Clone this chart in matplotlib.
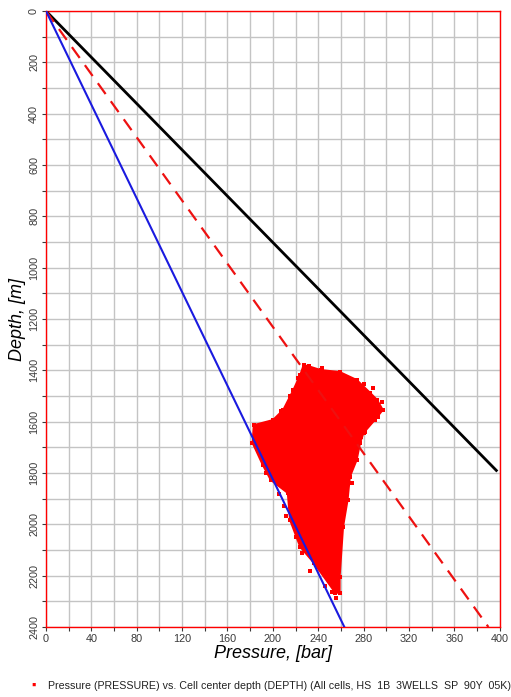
"""Pressure vs. cell-centre depth cross-plot with gradient lines."""
import numpy as np
import matplotlib
matplotlib.use("Agg")
import matplotlib.pyplot as plt
from matplotlib.patches import Polygon
from matplotlib.ticker import MultipleLocator

plt.rcParams['font.family'] = ['Liberation Sans', 'DejaVu Sans']

# ---- Gradient lines (end points) ----
BLACK_P = [0, 397]
BLACK_D = [0, 1790]
DASH_P  = [0, 390]
DASH_D  = [0, 2400]
BLUE_P  = [0, 263]
BLUE_D  = [0, 2400]

# ---- Cell cloud outline (pressure bar, depth m), traced clockwise ----
CLOUD_P = [227, 232, 242, 259, 274, 286, 292, 297, 290, 280, 277, 274, 268, 266,
           262, 259, 259, 255, 236, 224, 215, 213, 198, 191, 182, 183, 200, 209,
           218, 224]
CLOUD_D = [1379, 1384, 1398, 1406, 1437, 1488, 1515, 1554, 1593, 1644, 1683, 1749,
           1815, 1905, 2010, 2205, 2267, 2267, 2150, 2088, 1983, 1878, 1827, 1769,
           1683, 1613, 1593, 1554, 1476, 1418]

# stray cells along the edge of the cloud
STRAY_P = [296, 293, 281, 278, 285, 212, 210, 205, 194, 186, 220, 226, 233, 246,
           252, 256, 264, 270, 288, 280, 222, 215, 207, 243]
STRAY_D = [1523, 1580, 1640, 1660, 1505, 1967, 1930, 1880, 1800, 1700, 2050, 2110,
           2180, 2240, 2262, 2285, 1930, 1840, 1470, 1455, 1430, 1500, 1560, 1390]

LEGEND_TEXT = ("Pressure (PRESSURE) vs. Cell center depth (DEPTH) "
               "(All cells, HS  1B  3WELLS  SP  90Y  05K)")


def main():
    fig = plt.figure(figsize=(5.11, 6.97), dpi=100)
    ax = fig.add_axes([0.090, 0.1004, 0.888, 0.8838])

    ax.set_xlim(0, 400)
    ax.set_ylim(2400, 0)
    ax.xaxis.set_major_locator(MultipleLocator(40))
    ax.xaxis.set_minor_locator(MultipleLocator(20))
    ax.yaxis.set_major_locator(MultipleLocator(200))
    ax.yaxis.set_minor_locator(MultipleLocator(100))
    ax.grid(which="both", color="#c4c4c4", lw=1.0, zorder=0)
    ax.set_axisbelow(True)

    ax.tick_params(which="major", labelsize=7.8, colors="#3a3a3a", length=3, width=0.8, pad=2)
    ax.tick_params(which="minor", length=3, width=0.8, colors="#3a3a3a")
    for lab in ax.get_yticklabels():
        lab.set_rotation(90)
        lab.set_va("center")

    for s in ax.spines.values():
        s.set_color("red")
        s.set_linewidth(1.0)

    # cloud of cells
    ax.add_patch(Polygon(np.column_stack([CLOUD_P, CLOUD_D]), closed=True,
                         facecolor="#ff0000", edgecolor="#ff0000", lw=1.2, zorder=3))
    ax.scatter(CLOUD_P, CLOUD_D, marker="s", s=7, color="#ff0000", lw=0, zorder=3)
    ax.scatter(STRAY_P, STRAY_D, marker="s", s=7, color="#ff0000", lw=0, zorder=3)

    ax.plot(BLACK_P, BLACK_D, color="black", lw=2.0, zorder=4)
    ax.plot(DASH_P, DASH_D, color="#ee1111", lw=1.6, dashes=(6, 4), zorder=4)
    ax.plot(BLUE_P, BLUE_D, color="#1a1adf", lw=1.5, zorder=4)

    ax.set_xlabel("Pressure, [bar]", fontsize=13, style="italic", labelpad=1)
    ax.set_ylabel("Depth, [m]", fontsize=13, style="italic", labelpad=2)

    fig.text(0.065, 0.016, "\u25aa", color="red", fontsize=9, ha="center", va="center")
    fig.text(0.094, 0.016, LEGEND_TEXT, fontsize=7.7, color="#222222", va="center")

    fig.savefig("out.png", dpi=100)
    plt.close(fig)


if __name__ == "__main__":
    main()
